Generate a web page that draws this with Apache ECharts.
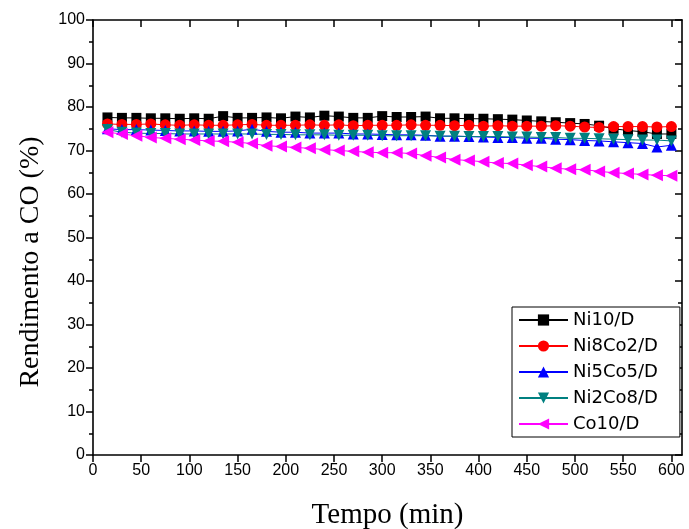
<!DOCTYPE html>
<html>
<head>
<meta charset="utf-8">
<script src="https://cdn.jsdelivr.net/npm/echarts@6/dist/echarts.min.js"></script>
<style>
  html, body { margin: 0; padding: 0; background: #fff; }
  #chart { width: 689px; height: 529px; }
</style>
</head>
<body>
<div id="chart"></div>
<script>
// Sampling times (min)
const tempo = [15, 30, 45, 60, 75, 90, 105, 120, 135, 150, 165, 180, 195, 210, 225, 240, 255, 270, 285, 300,
               315, 330, 345, 360, 375, 390, 405, 420, 435, 450, 465, 480, 495, 510, 525, 540, 555, 570, 585, 600];

// CO yield (%) per catalyst
const ni10 = [77.6, 77.5, 77.5, 77.4, 77.4, 77.3, 77.4, 77.3, 77.9, 77.5, 77.5, 77.6, 77.4, 77.8, 77.6, 78.0, 77.8, 77.5, 77.5, 77.9,
              77.7, 77.7, 77.8, 77.4, 77.4, 77.3, 77.3, 77.2, 77.1, 76.9, 76.7, 76.5, 76.3, 76.1, 75.7, 75.0, 74.6, 74.3, 73.8, 73.8];
const ni8co2 = [76.1, 76.0, 76.0, 76.1, 75.9, 75.8, 75.9, 75.8, 75.8, 75.9, 76.0, 75.8, 75.8, 75.8, 75.9, 75.8, 75.9, 75.7, 75.8, 75.8,
                75.8, 75.9, 75.8, 75.8, 75.7, 75.8, 75.6, 75.7, 75.6, 75.6, 75.6, 75.7, 75.6, 75.4, 75.3, 75.5, 75.5, 75.5, 75.4, 75.5];
const ni5co5 = [75.0, 74.8, 74.8, 74.7, 74.6, 74.5, 74.5, 74.4, 74.4, 74.5, 74.9, 74.4, 74.2, 74.2, 74.0, 74.0, 74.0, 73.8, 73.8, 73.7,
                73.6, 73.6, 73.5, 73.3, 73.3, 73.2, 73.1, 73.0, 73.0, 72.8, 72.8, 72.6, 72.5, 72.3, 72.2, 72.0, 71.8, 71.6, 70.8, 71.2];
const ni2co8 = [74.8, 74.2, 74.0, 73.9, 73.9, 73.8, 73.8, 73.8, 73.8, 73.8, 73.8, 73.7, 73.7, 73.6, 73.6, 73.6, 73.5, 73.5, 73.5, 73.4,
                73.4, 73.4, 73.4, 73.3, 73.3, 73.2, 73.2, 73.2, 73.1, 73.1, 73.0, 73.0, 72.8, 72.8, 72.7, 72.6, 72.5, 72.4, 72.4, 72.2];
const co10 = [74.2, 73.8, 73.4, 73.0, 72.8, 72.6, 72.4, 72.2, 72.1, 71.9, 71.6, 71.1, 70.9, 70.7, 70.5, 70.2, 70.0, 69.8, 69.6, 69.5,
              69.5, 69.3, 68.8, 68.4, 67.9, 67.7, 67.4, 67.1, 67.0, 66.6, 66.3, 65.9, 65.7, 65.6, 65.2, 64.9, 64.7, 64.5, 64.3, 64.2];

const xTicks = [0, 50, 100, 150, 200, 250, 300, 350, 400, 450, 500, 550, 600];

const seriesDefs = [
  { name: 'Ni10/D',   data: ni10,   color: '#000000', symbol: 'rect', size: 10 },
  { name: 'Ni8Co2/D', data: ni8co2, color: '#ff0000', symbol: 'circle', size: 11 },
  { name: 'Ni5Co5/D', data: ni5co5, color: '#0000ff', symbol: 'path://M1,0L2,2L0,2Z', size: 11 },
  { name: 'Ni2Co8/D', data: ni2co8, color: '#008080', symbol: 'path://M0,0L2,0L1,2Z', size: 11 },
  { name: 'Co10/D',   data: co10,   color: '#ff00ff', symbol: 'path://M0,1L2,0L2,2Z', size: 12 }
];

const numFont = 'Liberation Sans';
const axisLine = { show: true, onZero: false, lineStyle: { color: '#000', width: 1.6 } };

const chart = echarts.init(document.getElementById('chart'), null, { renderer: 'canvas' });
chart.setOption({
  animation: false,
  backgroundColor: '#fff',
  grid: { left: 93, right: 7, top: 20, bottom: 74, containLabel: false, outerBoundsMode: 'none' },
  legend: {
    orient: 'vertical',
    left: 512,
    top: 307,
    padding: [4, 22, 4, 6],
    itemWidth: 49,
    itemHeight: 14,
    itemGap: 8,
    borderColor: '#000',
    borderWidth: 1,
    borderRadius: 0,
    backgroundColor: '#fff',
    textStyle: { fontFamily: 'DejaVu Sans', fontSize: 18, color: '#000' },
    data: seriesDefs.map(s => s.name)
  },
  // Y-axis title, placed slightly below the plot centre
  graphic: [{
    type: 'text',
    x: 31,
    y: 262,
    rotation: Math.PI / 2,
    style: {
      text: 'Rendimento a CO (%)',
      fontFamily: 'Liberation Serif',
      fontSize: 28,
      fill: '#000',
      align: 'center',
      verticalAlign: 'middle'
    }
  }],
  xAxis: [
    {
      type: 'value', position: 'bottom', min: 0, max: 611,
      axisLine: axisLine,
      axisTick: { show: true, inside: false, length: 7, customValues: xTicks, lineStyle: { color: '#000', width: 1.5 } },
      minorTick: { show: true, splitNumber: 2, length: 4, lineStyle: { color: '#000', width: 1.5 } },
      axisLabel: { customValues: xTicks, margin: 8, fontFamily: numFont, fontSize: 16, color: '#000' },
      splitLine: { show: false },
      name: 'Tempo (min)', nameLocation: 'middle', nameGap: 46,
      nameTextStyle: { fontFamily: 'Liberation Serif', fontSize: 29, color: '#000' }
    },
    {
      type: 'value', position: 'top', min: 0, max: 611,
      axisLine: axisLine,
      axisTick: { show: true, inside: true, length: 7, customValues: xTicks, lineStyle: { color: '#000', width: 1.5 } },
      minorTick: { show: true, splitNumber: 2, length: 4, lineStyle: { color: '#000', width: 1.5 } },
      axisLabel: { show: false },
      splitLine: { show: false }
    }
  ],
  yAxis: [
    {
      type: 'value', position: 'left', min: 0, max: 100, interval: 10,
      axisLine: axisLine,
      axisTick: { show: true, inside: false, length: 7, lineStyle: { color: '#000', width: 1.5 } },
      minorTick: { show: true, splitNumber: 2, length: 4, lineStyle: { color: '#000', width: 1.5 } },
      axisLabel: { margin: 8, fontFamily: numFont, fontSize: 16, color: '#000' },
      splitLine: { show: false }
    },
    {
      type: 'value', position: 'right', min: 0, max: 100, interval: 10,
      axisLine: axisLine,
      axisTick: { show: true, inside: true, length: 7, lineStyle: { color: '#000', width: 1.5 } },
      minorTick: { show: true, splitNumber: 2, length: 4, lineStyle: { color: '#000', width: 1.5 } },
      axisLabel: { show: false },
      splitLine: { show: false }
    }
  ],
  series: seriesDefs.map(s => ({
    name: s.name,
    type: 'line',
    xAxisIndex: 0,
    yAxisIndex: 0,
    data: tempo.map((t, i) => [t, s.data[i]]),
    symbol: s.symbol,
    symbolSize: s.size,
    showAllSymbol: true,
    lineStyle: { color: s.color, width: 1 },
    itemStyle: { color: s.color, borderWidth: 0 },
    emphasis: { disabled: true }
  }))
});
</script>
</body>
</html>
